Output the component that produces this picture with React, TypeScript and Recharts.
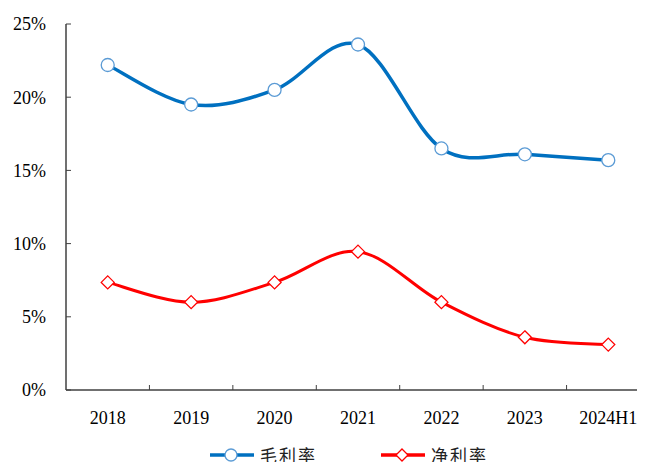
import { LineChart, Line, XAxis, YAxis, Legend } from 'recharts'

const years = ['2018', '2019', '2020', '2021', '2022', '2023', '2024H1']
const grossMargin = [22.2, 19.5, 20.5, 23.6, 16.5, 16.1, 15.7]
const netMargin = [7.35, 6.0, 7.35, 9.45, 6.0, 3.6, 3.1]
const yTicks = [0, 5, 10, 15, 20, 25]

const BLUE = '#0070C0'
const RED = '#FF0000'
const MARKER_BLUE = '#5B9BD5'

const data = years.map((year, i) => ({ year, gross: grossMargin[i], net: netMargin[i] }))

const CHART_W = 660
const CHART_H = 470
const MARGIN = { top: 24, right: 10, bottom: 0, left: 0 }
const Y_AXIS_W = 66
const BAND = (CHART_W - MARGIN.left - MARGIN.right - Y_AXIS_W) / years.length

// Excel-style smoothed line (Catmull-Rom as cubic beziers)
function excelCurve(context: any) {
  let pts: [number, number][] = []
  return {
    areaStart() {},
    areaEnd() {},
    lineStart() {
      pts = []
    },
    point(x: number, y: number) {
      pts.push([+x, +y])
    },
    lineEnd() {
      const n = pts.length
      if (!n) return
      context.moveTo(pts[0][0], pts[0][1])
      for (let i = 0; i < n - 1; i++) {
        const p0 = pts[Math.max(0, i - 1)]
        const p1 = pts[i]
        const p2 = pts[i + 1]
        const p3 = pts[Math.min(n - 1, i + 2)]
        context.bezierCurveTo(
          p1[0] + (p2[0] - p0[0]) / 6,
          p1[1] + (p2[1] - p0[1]) / 6,
          p2[0] - (p3[0] - p1[0]) / 6,
          p2[1] - (p3[1] - p1[1]) / 6,
          p2[0],
          p2[1],
        )
      }
    },
  }
}

const font = '"Liberation Serif", "Times New Roman", serif'

const CircleDot = (props: any) => {
  const { cx, cy } = props
  if (cx == null || cy == null) return null
  return <circle cx={cx} cy={cy} r={6.5} fill="#fff" stroke={MARKER_BLUE} strokeWidth={1.3} />
}

const DiamondDot = (props: any) => {
  const { cx, cy } = props
  if (cx == null || cy == null) return null
  const s = 6.5
  return (
    <path
      d={`M${cx},${cy - s}L${cx + s},${cy}L${cx},${cy + s}L${cx - s},${cy}Z`}
      fill="#fff"
      stroke={RED}
      strokeWidth={1.3}
    />
  )
}

const XTick = (props: any) => {
  const { x, y, payload, index } = props
  return (
    <g>
      {index < years.length - 1 && (
        <line x1={x + BAND / 2} x2={x + BAND / 2} y1={y} y2={y - 5} stroke="#404040" strokeWidth={1} />
      )}
      <text x={x} y={y + 34} textAnchor="middle" fontFamily={font} fontSize={18} fill="#000">
        {payload.value}
      </text>
    </g>
  )
}

const legendItems = [
  { label: '毛利率', color: BLUE, shape: 'circle' },
  { label: '净利率', color: RED, shape: 'diamond' },
]

const LegendContent = () => (
  <div style={{ height: 30, display: 'flex', alignItems: 'center', paddingLeft: 210, gap: 64, lineHeight: 1 }}>
    {legendItems.map((it) => (
      <div key={it.label} style={{ display: 'flex', alignItems: 'center', height: 20 }}>
        <svg width={46} height={16} style={{ display: 'block' }}>
          <line x1={0} x2={44} y1={8} y2={8} stroke={it.color} strokeWidth={3.5} />
          {it.shape === 'circle' ? (
            <circle cx={21} cy={8} r={6} fill="#fff" stroke={MARKER_BLUE} strokeWidth={1.3} />
          ) : (
            <path d="M21,2L27,8L21,14L15,8Z" fill="#fff" stroke={RED} strokeWidth={1.3} />
          )}
        </svg>
        <span
          style={{
            fontFamily: '"Noto Sans CJK SC", sans-serif',
            fontSize: 17,
            lineHeight: '20px',
            letterSpacing: 2,
            marginLeft: 4,
            color: '#222',
          }}
        >
          {it.label}
        </span>
      </div>
    ))}
  </div>
)

export default function App() {
  return (
    <div style={{ margin: -8, width: 645, height: 470, overflow: 'hidden', background: '#fff' }}>
      <LineChart width={CHART_W} height={CHART_H} data={data} margin={MARGIN}>
        <XAxis
          dataKey="year"
          axisLine={{ stroke: '#404040', strokeWidth: 1.5 }}
          tickLine={false}
          tickSize={0}
          tickMargin={0}
          height={50}
          interval={0}
          padding={{ left: BAND / 2, right: BAND / 2 }}
          tick={<XTick />}
        />
        <YAxis
          domain={[0, 25]}
          ticks={yTicks}
          width={Y_AXIS_W}
          interval={0}
          axisLine={{ stroke: '#404040', strokeWidth: 1.5 }}
          tickLine={{ stroke: '#404040' }}
          tickSize={-5}
          tickMargin={25}
          tickFormatter={(v: number) => `${v}%`}
          tick={{ fontFamily: font, fontSize: 18, fill: '#000' }}
        />
        <Legend
          verticalAlign="bottom"
          wrapperStyle={{ left: 0, width: CHART_W, height: 30 }}
          content={<LegendContent />}
        />
        <Line
          dataKey="gross"
          name="毛利率"
          type={excelCurve as any}
          stroke={BLUE}
          strokeWidth={3.5}
          dot={<CircleDot />}
          activeDot={false}
          isAnimationActive={false}
        />
        <Line
          dataKey="net"
          name="净利率"
          type={excelCurve as any}
          stroke={RED}
          strokeWidth={3}
          dot={<DiamondDot />}
          activeDot={false}
          isAnimationActive={false}
        />
      </LineChart>
    </div>
  )
}
